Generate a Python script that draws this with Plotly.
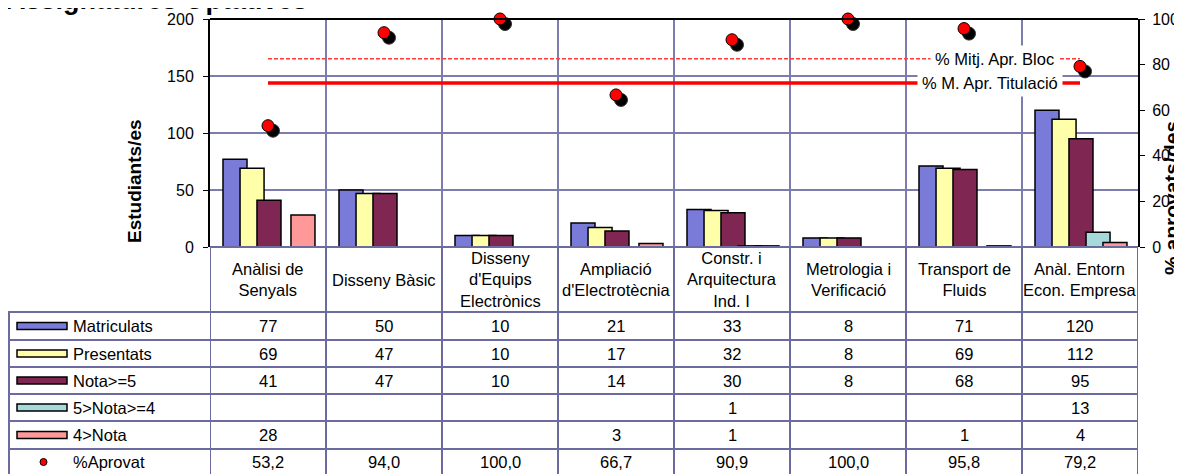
import plotly.graph_objects as go

categories = ["Anàlisi de Senyals", "Disseny Bàsic", "Disseny d'Equips Electrònics",
              "Ampliació d'Electrotècnia", "Constr. i Arquitectura Ind. I",
              "Metrologia i Verificació", "Transport de Fluids", "Anàl. Entorn Econ. Empresa"]
category_labels = ["Anàlisi de<br>Senyals", "Disseny Bàsic", "Disseny<br>d'Equips<br>Electrònics",
                   "Ampliació<br>d'Electrotècnia", "Constr. i<br>Arquitectura<br>Ind. I",
                   "Metrologia i<br>Verificació", "Transport de<br>Fluids", "Anàl. Entorn<br>Econ. Empresa"]

matriculats = [77, 50, 10, 21, 33, 8, 71, 120]
presentats = [69, 47, 10, 17, 32, 8, 69, 112]
nota_5 = [41, 47, 10, 14, 30, 8, 68, 95]
nota_4_5 = [None, None, None, None, 1, None, None, 13]
nota_menor_4 = [28, None, None, 3, 1, None, 1, 4]
pct_aprovat = [53.2, 94.0, 100.0, 66.7, 90.9, 100.0, 95.8, 79.2]

mitja_bloc = 82.6
mitja_titulacio = 71.9

series_names = ["Matriculats", "Presentats", "Nota>=5", "5>Nota>=4", "4>Nota"]
series_values = [matriculats, presentats, nota_5, nota_4_5, nota_menor_4]
series_colors = ["#7a7ad8", "#ffffaa", "#7f2652", "#a6dada", "#ff9999"]
bar_offsets = [-0.388, -0.241, -0.095, 0.052, 0.198]
bar_width = 0.207

FONT = "Liberation Sans, Arial, sans-serif"
GRID = "#7c7cae"
TABLE = "#6b6b9f"

# page has an 8px body margin; plot area on the page: x 210..1138, y 19..247
PAGE_OFF = 8

def py(p):
    return (247 - p) / 228.0

def px(p):
    return (p - 210) / 928.0

def note(x, y, text, size=16, xref="paper", yref="paper", xanchor="center", **kw):
    return dict(x=x, y=y, xref=xref, yref=yref, xanchor=xanchor, yanchor="middle",
                text=text, showarrow=False, font=dict(family=FONT, size=size, color="black"), **kw)

fig = go.Figure()

for name, vals, color, off in zip(series_names, series_values, series_colors, bar_offsets):
    fig.add_trace(go.Bar(
        x=categories, y=vals, name=name,
        offset=off, width=bar_width,
        marker=dict(color=color, line=dict(color="black", width=1.5)),
        showlegend=False,
    ))

# average lines (right axis)
fig.add_trace(go.Scatter(
    x=[categories[0], categories[-1]], y=[mitja_bloc, mitja_bloc],
    mode="lines", line=dict(color="#ff3b3b", width=1.5, dash="4px,2px"),
    yaxis="y2", showlegend=False,
))
fig.add_trace(go.Scatter(
    x=[categories[0], categories[-1]], y=[mitja_titulacio, mitja_titulacio],
    mode="lines", line=dict(color="#ff0000", width=3.5),
    yaxis="y2", showlegend=False,
))

# marker shadow and markers
fig.add_trace(go.Scatter(
    x=categories, y=pct_aprovat, mode="markers",
    marker=dict(color="black", size=13, line=dict(color="#333333", width=1)),
    xaxis="x3", yaxis="y3", cliponaxis=False, showlegend=False,
))
fig.add_trace(go.Scatter(
    x=categories, y=pct_aprovat, mode="markers", name="%Aprovat",
    marker=dict(color="#ff0000", size=12, line=dict(color="black", width=1)),
    xaxis="x4", yaxis="y4", cliponaxis=False, showlegend=False,
))

shadow_dx = 5 / 116.0
shadow_dy = 5 / 2.28

annotations = []
shapes = []

# titles
annotations.append(note(px(310), py(-0.5), "<b>Assignatures Optatives</b>", size=27, xanchor="right"))
annotations.append(note(px(134), py(181), "<b>Estudiants/es</b>", size=19, textangle=-90))
annotations.append(note(px(1171), py(198), "<b>% aprovats/des</b>", size=21, textangle=-90))

# labels of the average lines
annotations.append(note(6.267, mitja_bloc, "% Mitj. Apr. Bloc", size=16.5, xref="x", yref="y2",
                        bgcolor="white", borderpad=4))
annotations.append(note(6.224, mitja_titulacio, "% M. Apr. Titulació", size=16.5, xref="x", yref="y2",
                        bgcolor="white", borderpad=4))

# top border of plot
shapes.append(dict(type="line", xref="paper", yref="paper", x0=0, x1=1, y0=1, y1=1,
                   line=dict(color="black", width=2)))

# data table
row_edges = [312, 340, 367, 394, 421, 449]
row_centers = [326, 353.5, 380.5, 407.5, 435, 462]
header_center = 279.5

for i, lab in enumerate(category_labels):
    annotations.append(note(categories[i], py(header_center), lab, size=16.5, xref="x", align="center"))

table_rows = series_values + [pct_aprovat]
for r, vals in enumerate(table_rows):
    for i, v in enumerate(vals):
        if v is None:
            continue
        txt = f"{v:.1f}".replace(".", ",") if r == len(table_rows) - 1 else str(v)
        annotations.append(note(categories[i], py(row_centers[r]), txt, size=16.5, xref="x"))

# row labels with legend keys
for r, name in enumerate(series_names + ["%Aprovat"]):
    annotations.append(note(px(71), py(row_centers[r]), name, size=16.5, xanchor="left"))
for r, color in enumerate(series_colors):
    shapes.append(dict(type="rect", xref="paper", yref="paper",
                       x0=px(17), x1=px(67), y0=py(row_centers[r] - 3.5), y1=py(row_centers[r] + 3.5),
                       fillcolor=color, line=dict(color="black", width=1.5)))
shapes.append(dict(type="circle", xref="paper", yref="paper",
                   x0=px(40), x1=px(47), y0=py(row_centers[5] - 3.5), y1=py(row_centers[5] + 3.5),
                   fillcolor="#ff0000", line=dict(color="black", width=1)))

# table grid
for e in row_edges:
    shapes.append(dict(type="line", xref="paper", yref="paper", x0=px(8), x1=1,
                       y0=py(e), y1=py(e), line=dict(color=TABLE, width=2)))
shapes.append(dict(type="line", xref="paper", yref="paper", x0=px(9), x1=px(9),
                   y0=py(row_edges[0]), y1=py(476), line=dict(color=TABLE, width=2)))
for k in range(len(categories) + 1):
    shapes.append(dict(type="line", xref="x", yref="paper", x0=k - 0.5, x1=k - 0.5,
                       y0=0, y1=py(476), line=dict(color=TABLE, width=2)))
shapes.append(dict(type="line", xref="paper", yref="paper", x0=0, x1=1, y0=0, y1=0,
                   line=dict(color=TABLE, width=2)))

W, H = 1182 - PAGE_OFF, 474 - PAGE_OFF
fig.update_layout(
    width=W, height=H,
    margin=dict(l=210 - PAGE_OFF, r=1182 - 1138, t=19 - PAGE_OFF, b=474 - 247, autoexpand=False),
    paper_bgcolor="white", plot_bgcolor="white",
    barmode="overlay",
    font=dict(family=FONT, size=16, color="black"),
    xaxis=dict(type="category", categoryarray=categories, range=[-0.5, 7.5],
               showticklabels=False, tickson="boundaries", showgrid=True,
               gridcolor=GRID, gridwidth=1.5, ticks="", showline=False, zeroline=False),
    yaxis=dict(range=[0, 200], dtick=50, showgrid=True, gridcolor=GRID, gridwidth=1.5,
               showline=True, linecolor="black", linewidth=2, ticks="outside",
               ticklen=5, tickcolor="black", zeroline=False, ticklabelstandoff=6,
               tickfont=dict(family=FONT, size=16)),
    yaxis2=dict(range=[0, 100], dtick=20, overlaying="y", side="right", showgrid=False,
                showline=True, linecolor="black", linewidth=2, ticks="outside",
                ticklen=5, tickcolor="black", zeroline=False, ticklabelstandoff=4,
                tickfont=dict(family=FONT, size=16)),
    xaxis3=dict(type="category", categoryarray=categories, overlaying="x", visible=False,
                range=[-0.5 - shadow_dx, 7.5 - shadow_dx]),
    yaxis3=dict(overlaying="y", visible=False, range=[shadow_dy, 100 + shadow_dy]),
    xaxis4=dict(type="category", categoryarray=categories, overlaying="x", visible=False,
                range=[-0.5, 7.5]),
    yaxis4=dict(overlaying="y", visible=False, range=[0, 100]),
    annotations=annotations,
    shapes=shapes,
)

fig.write_html("out.html")
